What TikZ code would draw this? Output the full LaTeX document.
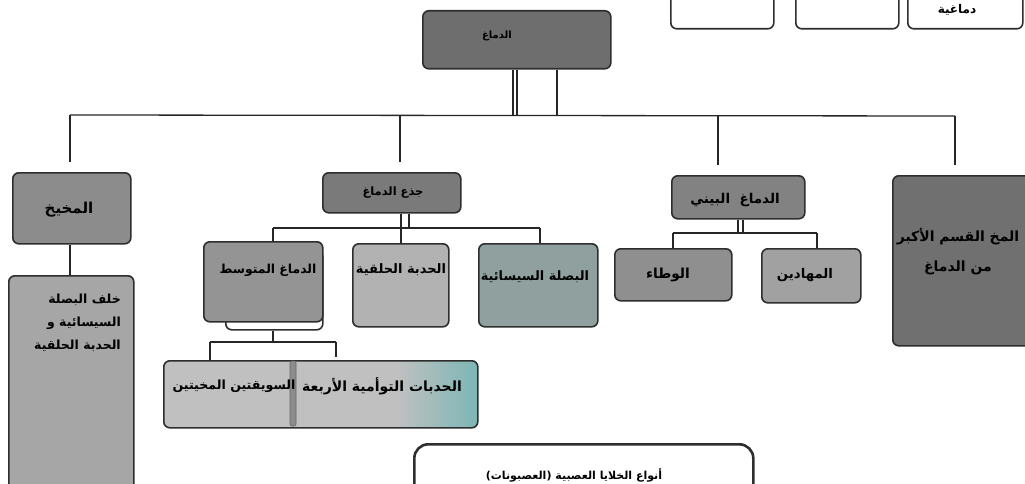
\documentclass[tikz,border=0pt]{standalone}
\usepackage{fontspec}
\newfontfamily\arfont[Script=Arabic]{DejaVu Sans}
\TeXXeTstate=1
\newcommand{\AR}[1]{{\arfont\bfseries\beginR #1\endR}}
\newcommand{\fs}[1]{\fontsize{#1}{#1}\selectfont}
\definecolor{edge}{HTML}{2E2E2E}
\definecolor{tealish}{RGB}{125,182,182}
\definecolor{lgray}{RGB}{192,192,192}
\pgfdeclarehorizontalshading{midshade}{100bp}{color(0bp)=(lgray); color(62bp)=(lgray); color(75bp)=(tealish); color(100bp)=(tealish)}
\begin{document}
\begin{tikzpicture}[x=1pt,y=-1pt,
  box/.style={draw=edge, line width=1.6pt, rounded corners=6pt, anchor=north west, inner sep=0pt},
  lbl/.style={text=black, inner sep=1pt},
  conn/.style={draw=black!85, line width=1.3pt},
  gap/.style={shorten >=10pt}]
\useasboundingbox (0,0) rectangle (1025,484);
\clip (0,0) rectangle (1025,484);
\fill[white] (0,0) rectangle (1025,484);

% top-right partially visible boxes
\node[box, fill=white, minimum width=103pt, minimum height=50pt] (tr1) at (670,-22) {};
\node[box, fill=white, minimum width=103pt, minimum height=50pt] (tr2) at (795,-22) {};
\node[box, fill=white, minimum width=115pt, minimum height=50pt] (tr3) at (907,-22) {};
\node[lbl, font=\fs{12}] (tr3t) at (957,10) {\AR{دماغية}};

% top node
\node[box, fill=black!57, minimum width=188pt, minimum height=58pt] (brain) at (422,10) {};
\node[lbl, font=\fs{10}] (braint) at (497,36) {\AR{الدماغ}};

% level 1
\node[box, fill=black!45, minimum width=118pt, minimum height=71pt] (cereb) at (12,172) {};
\node[lbl, font=\fs{15}] (cerebt) at (69,210) {\AR{المخيخ}};
\node[box, fill=black!35, minimum width=125pt, minimum height=240pt] (cerebd) at (8,275) {};
\node[lbl, align=right, anchor=north east, font=\fontsize{12.5}{23}\selectfont] (cerebdt) at (122,293)
  {\AR{خلف البصلة}\\\AR{السيسائية و}\\\AR{الحدبة الحلقية}};

\node[box, fill=black!52, minimum width=138pt, minimum height=40pt] (stem) at (322,172) {};
\node[lbl, font=\fs{11.5}] (stemt) at (393,193) {\AR{جذع الدماغ}};

\node[box, fill=black!49, minimum width=133pt, minimum height=43pt] (dien) at (671,175) {};
\node[lbl, font=\fs{13.5}] (dient) at (735,200) {\AR{الدماغ~~البيني}};

\node[box, fill=black!56, minimum width=143pt, minimum height=170pt] (cerebrum) at (892,175) {};
\node[lbl, align=center, font=\fontsize{14}{30}\selectfont] (cerebrumt) at (958,252)
  {\AR{المخ القسم الأكبر}\\\AR{من الدماغ}};

% level 2 under brain stem
\node[box, fill=white, minimum width=97pt, minimum height=79pt] (midsh) at (225,250) {};
\node[box, fill=black!42, minimum width=119pt, minimum height=80pt] (mid) at (203,241) {};
\node[lbl, font=\fs{12.4}] (midt) at (268,270) {\AR{الدماغ المتوسط}};

\node[box, fill=black!30, minimum width=96pt, minimum height=83pt] (pons) at (352,243) {};
\node[lbl, font=\fs{13}] (ponst) at (401,270) {\AR{الحدبة الحلقية}};

\node[box, fill={rgb,255:red,143;green,160;blue,159}, minimum width=119pt, minimum height=83pt] (medulla) at (478,243) {};
\node[lbl, font=\fs{12.9}] (medullat) at (535,277) {\AR{البصلة السيسائية}};

% level 2 under diencephalon
\node[box, fill=black!44, minimum width=117pt, minimum height=52pt] (hypo) at (614,248) {};
\node[lbl, font=\fs{13.8}] (hypot) at (668,275) {\AR{الوطاء}};
\node[box, fill=black!37, minimum width=99pt, minimum height=54pt] (thal) at (761,248) {};
\node[lbl, font=\fs{13.3}] (thalt) at (805,275) {\AR{المهادين}};

% level 3 under midbrain
\node[box, shading=midshade, minimum width=314pt, minimum height=67pt] (midparts) at (163,360) {};
\node[fill=black!45, draw=black!60, line width=0.6pt, rounded corners=2pt, minimum width=6pt, minimum height=65pt, inner sep=0pt] (divider) at (293,393.5) {};
\node[lbl, font=\fs{12.6}] (pedt) at (234,386) {\AR{السويقتين المخيتين}};
\node[lbl, font=\fs{14}] (colt) at (382,386) {\AR{الحدبات التوأمية الأربعة}};

% bottom box
\node[box, fill=white, line width=2.6pt, rounded corners=14pt, minimum width=339pt, minimum height=80pt] (neurons) at (413,443) {};
\node[lbl, font=\fs{11}] (neuronst) at (574,475) {\AR{أنواع الخلايا العصبية (العصبونات)}};

% connectors: brain to bus
\coordinate (busL) at (70,115);
\coordinate (busR) at (955,116);
\coordinate (d1) at (513,115);
\coordinate (d2) at (517,115);
\coordinate (d3) at (557,115);
\coordinate (b2) at (400,115);
\coordinate (b3) at (718,116);
\draw[conn] (brain.south -| d1) -- (d1);
\draw[conn] (brain.south -| d2) -- (d2);
\draw[conn] (brain.south -| d3) -- (d3);
\draw[conn] (busL) -- (busR);
\draw[conn, gap] (busL) -- (busL |- cereb.north);
\draw[conn, gap] (b2) -- (b2 |- stem.north);
\draw[conn, gap] (b3) -- (b3 |- dien.north);
\draw[conn, gap] (busR) -- (busR |- cerebrum.north);
\draw[conn] (cereb.south -| busL) -- (cerebd.north -| busL);

% brain stem branches
\coordinate (s1) at (401,228);
\coordinate (s2) at (409,228);
\coordinate (sL) at (273,228);
\coordinate (sR) at (540,228);
\draw[conn] (stem.south -| s1) -- (pons.north -| s1);
\draw[conn] (stem.south -| s2) -- (s2);
\draw[conn] (sL) -- (sR);
\draw[conn] (sL) -- (sL |- mid.north);
\draw[conn] (sR) -- (sR |- medulla.north);

% diencephalon branches
\coordinate (e1) at (738,233);
\coordinate (e2) at (743,233);
\coordinate (eL) at (673,233);
\coordinate (eR) at (817,233);
\draw[conn] (dien.south -| e1) -- (e1);
\draw[conn] (dien.south -| e2) -- (e2);
\draw[conn] (eL) -- (eR);
\draw[conn] (eL) -- (eL |- hypo.north);
\draw[conn] (eR) -- (eR |- thal.north);

% midbrain branches
\coordinate (m0) at (273,342);
\coordinate (mL) at (210,342);
\coordinate (mR) at (336,342);
\draw[conn] (midsh.south -| m0) -- (m0);
\draw[conn] (mL) -- (mR);
\draw[conn] (mL) -- (mL |- midparts.north);
\draw[conn] (mR) -- ([yshift=3pt]mR |- midparts.north);
\end{tikzpicture}
\end{document}
